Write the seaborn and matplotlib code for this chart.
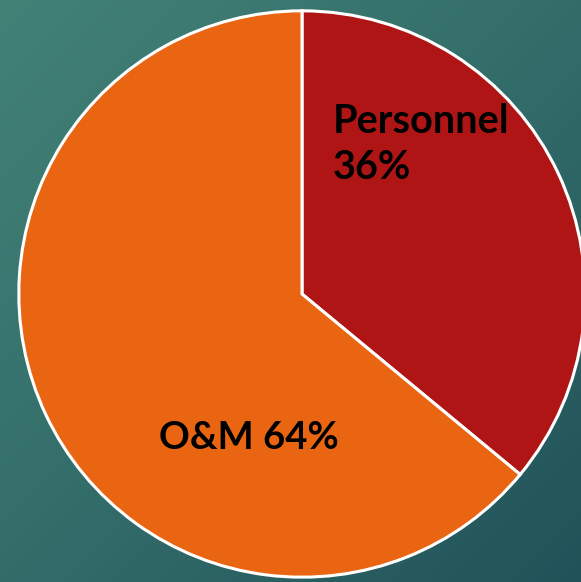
import numpy as np
import matplotlib
matplotlib.use("Agg")
import matplotlib.pyplot as plt
import seaborn as sns
from matplotlib.colors import LinearSegmentedColormap

# Budget split
categories = ["Personnel", "O&M"]
shares = [36, 64]
slice_colors = ["#b01515", "#e96512"]

sns.set_theme(style="white")
plt.rcParams["font.family"] = ["Lato", "DejaVu Sans"]

fig = plt.figure(figsize=(5.81, 5.82), dpi=100)

# gradient teal background
bg = fig.add_axes([0, 0, 1, 1])
cmap = LinearSegmentedColormap.from_list("teal", ["#428277", "#336d6a", "#215259"])
yy, xx = np.mgrid[0:1:200j, 0:1:200j]
bg.imshow((xx + yy) / 2, cmap=cmap, aspect="auto", extent=[0, 1, 1, 0])
bg.axis("off")

# pie axes: centre (302, 294) px, radius 286 px
W, H = 581, 582
ax = fig.add_axes([16 / W, 2 / H, 572 / W, 572 / H])
ax.pie(shares, colors=slice_colors, startangle=90, counterclock=False,
       radius=1, wedgeprops=dict(edgecolor="white", linewidth=2.2))
ax.set_xlim(-1.01, 1.01)
ax.set_ylim(-1.01, 1.01)
ax.set_aspect("equal")
ax.axis("off")

ax.text(0.108, 0.675, f"{categories[0]}\n{shares[0]}%", ha="left", va="top",
        fontsize=28.5, fontweight="bold", color="black", linespacing=1.3)
ax.text(-0.505, -0.51, f"{categories[1]} {shares[1]}%", ha="left", va="center",
        fontsize=27.5, fontweight="bold", color="black")

fig.savefig("out.png", dpi=100)
